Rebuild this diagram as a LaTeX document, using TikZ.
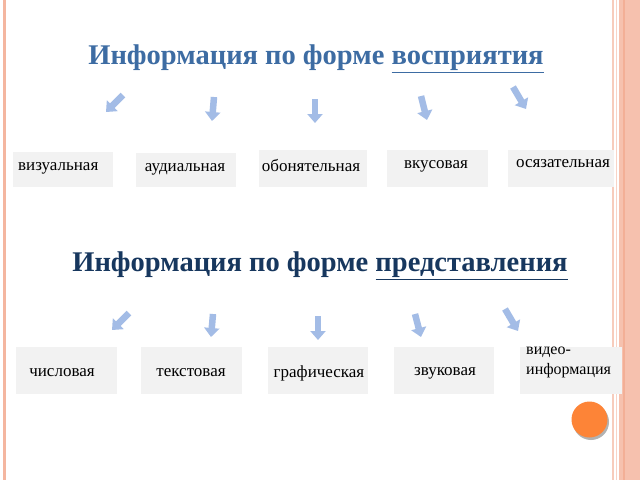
\documentclass[tikz,border=0pt]{standalone}
\usepackage{fontspec}
\setmainfont{Liberation Serif}
\usetikzlibrary{arrows.meta}
\definecolor{arr}{HTML}{A3BCE6}
\definecolor{bx}{HTML}{F2F2F2}
\definecolor{tA}{HTML}{3D6CA3}
\definecolor{tB}{HTML}{17375E}
\definecolor{bord}{HTML}{F4B6A0}
\definecolor{orng}{HTML}{FD8437}
\tikzset{
  ar/.style={draw=arr,line width=6.5pt,-{Triangle[length=9pt,width=15pt]}},
  box/.style={fill=bx,draw=none},
  lbl/.style={font=\fontsize{17}{18}\selectfont,inner sep=0pt},
  ttl/.style={font=\bfseries\fontsize{28.5}{30}\selectfont,inner sep=0pt}
}
\begin{document}
\begin{tikzpicture}[x=1pt,y=-1pt]
\useasboundingbox (0,0) rectangle (640,480);
\fill[white] (0,0) rectangle (640,480);
% borders
\fill[bord] (3,0) rectangle (6,480);
\fill[bord!70] (612,0) rectangle (614,480);
\fill[bord!60] (616,0) rectangle (617,480);
\fill[bord!85] (619,0) rectangle (640,480);
\fill[bord!110] (623,0) rectangle (625,480);
% titles
\node[ttl,text=tA] (t1) at (316,59) {Информация по форме \underline{восприятия}};
\node[ttl,text=tB] (t2) at (320,266) {Информация по форме \underline{представления}};
% top arrows
\coordinate (a1s) at (123,95); \coordinate (a1e) at (106,112);
\coordinate (a2s) at (214,97); \coordinate (a2e) at (212,121);
\coordinate (a3s) at (315,99); \coordinate (a3e) at (315,123);
\coordinate (a4s) at (421,96); \coordinate (a4e) at (427,120);
\coordinate (a5s) at (513,87); \coordinate (a5e) at (526,109);
\foreach \i in {1,...,5} \draw[ar] (a\i s) -- (a\i e);
% top boxes
\fill[box] (13,152) rectangle (113,187);
\node[lbl,anchor=west] (v1) at (18,168) {визуальная};
\fill[box] (136,153) rectangle (236,187);
\node[lbl] (v2) at (185,169) {аудиальная};
\fill[box] (259,150) rectangle (367,187);
\node[lbl] (v3) at (311,165) {обонятельная};
\fill[box] (387,150) rectangle (488,187);
\node[lbl] (v4) at (436,166) {вкусовая};
\fill[box] (508,150) rectangle (614,187);
\node[lbl] (v5) at (563,164) {осязательная};
% bottom arrows
\coordinate (b1s) at (129,313); \coordinate (b1e) at (112,330);
\coordinate (b2s) at (213,314); \coordinate (b2e) at (211,337);
\coordinate (b3s) at (318,316); \coordinate (b3e) at (318,340);
\coordinate (b4s) at (415,314); \coordinate (b4e) at (421,337);
\coordinate (b5s) at (505,309); \coordinate (b5e) at (518,331);
\foreach \i in {1,...,5} \draw[ar] (b\i s) -- (b\i e);
% bottom boxes
\fill[box] (16,347) rectangle (117,394);
\node[lbl] (p1) at (62,373) {числовая};
\fill[box] (141,347) rectangle (242,394);
\node[lbl] (p2) at (191,373) {текстовая};
\fill[box] (268,347) rectangle (368,394);
\node[lbl] (p3) at (319,373) {графическая};
\fill[box] (394,347) rectangle (494,394);
\node[lbl] (p4) at (445,373) {звуковая};
\fill[box] (520,347) rectangle (622,394);
\node[lbl,anchor=north west,align=left,font=\fontsize{16}{20}\selectfont] (p5) at (526,347) {видео-\\информация};
% circle
\fill[gray!60] (591,422) circle (18);
\node[circle,fill=orng,minimum size=36pt,inner sep=0pt] (c) at (589.5,419.5) {};
\end{tikzpicture}
\end{document}
